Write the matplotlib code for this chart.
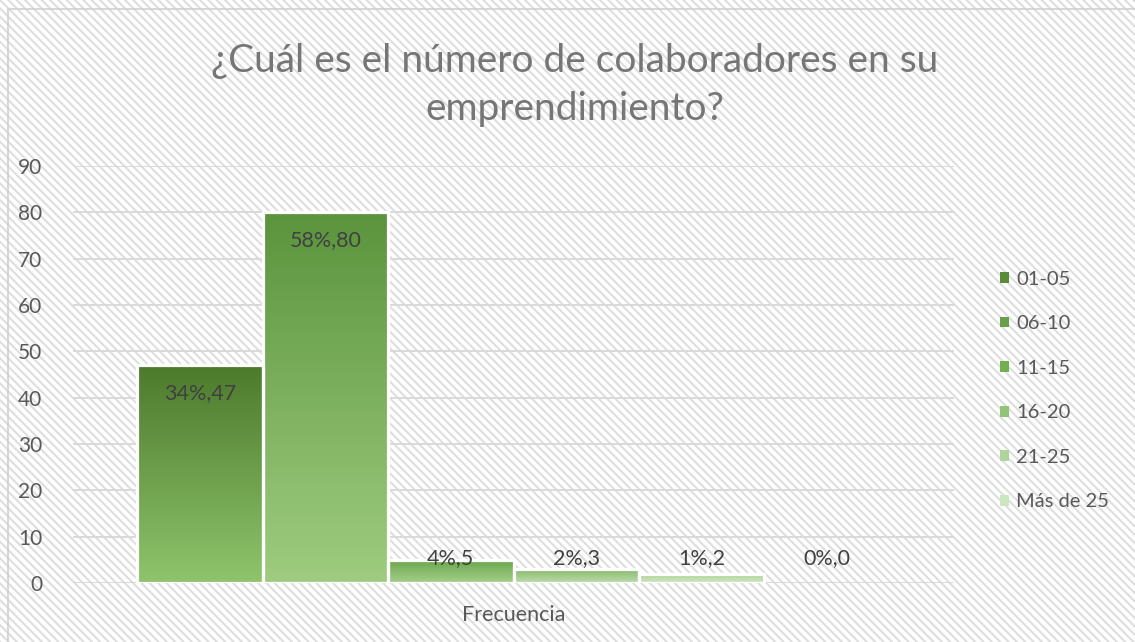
import matplotlib.pyplot as plt
import numpy as np
from matplotlib.colors import LinearSegmentedColormap
from matplotlib.patches import Patch, Rectangle

# data
series = ["01-05", "06-10", "11-15", "16-20", "21-25", "Más de 25"]
values = [47, 80, 5, 3, 2, 0]
percents = ["34%", "58%", "4%", "2%", "1%", "0%"]
category = "Frecuencia"
title = "¿Cuál es el número de colaboradores en su\nemprendimiento?"

# gradient colours (top, bottom) per series
tops = ["#4c7a2c", "#5b943d", "#68a548", "#86ba6a", "#a6ce8d", "#c5e0b4"]
bottoms = ["#8fc46c", "#9fcc80", "#a6cf8c", "#bfdcae", "#d2e8c6", "#e2f0d9"]
legend_colors = ["#5a8a3a", "#67a048", "#72b04f", "#92c478", "#b0d59b", "#cde5c0"]

plt.rcParams['font.family'] = ['Lato', 'DejaVu Sans']
plt.rcParams['hatch.linewidth'] = 1.5

fig = plt.figure(figsize=(11.35, 6.42), dpi=100)

# hatched chart background + frame
bg = Rectangle((0, 0), 1, 1, transform=fig.transFigure, facecolor='white',
               edgecolor='#dedede', hatch='\\\\\\\\', linewidth=0, zorder=-10)
fig.patches.append(bg)
frame = Rectangle((8 / 1135, -0.01), 1.01, 1 - 9 / 642 + 0.01, transform=fig.transFigure,
                  facecolor='none', edgecolor='#d0d0d0', linewidth=1.2, zorder=-9)
fig.patches.append(frame)

ax = fig.add_axes([73 / 1135, 1 - 583 / 642, (954 - 73) / 1135, (583 - 166) / 642])
ax.set_facecolor('none')

x = np.arange(len(values))
bars = ax.bar(x, values, width=1.0, facecolor='none', edgecolor='white',
              linewidth=2.3, zorder=4)

grad = np.linspace(0, 1, 256).reshape(-1, 1)
for rect, top, bottom in zip(bars, tops, bottoms):
    h = rect.get_height()
    if h <= 0:
        rect.set_edgecolor('none')  # zero bar: nothing drawn
        continue
    cmap = LinearSegmentedColormap.from_list('g', [top, bottom], N=256)
    x0 = rect.get_x()
    im = ax.imshow(grad, cmap=cmap, aspect='auto', origin='upper',
                   extent=[x0, x0 + rect.get_width(), 0, h], zorder=3,
                   interpolation='bilinear')
    im.set_clip_path(rect)

# data labels
for xi, v, p in zip(x, values, percents):
    ax.text(xi, max(v - 6.0, 5.4), f"{p},{v}", ha='center', va='center',
            fontsize=15.5, color='#404040', zorder=5)

ax.set_xlim(-1.01, 6.01)
ax.set_ylim(0, 90)
ax.set_yticks(range(0, 91, 10))
ax.set_xticks([])
ax.yaxis.grid(True, color='#d9d9d9', linewidth=1.4, zorder=0)
ax.set_axisbelow(True)
for s in ax.spines.values():
    s.set_visible(False)
ax.tick_params(axis='y', length=0, pad=22, labelsize=15, labelcolor='#595959')

ax.set_xlabel(category, fontsize=15.5, color='#595959', labelpad=16)

fig.text(575 / 1135, 1 - 85 / 642, title, ha='center', va='center',
         fontsize=28, color='#767676', linespacing=1.4)

handles = [Patch(facecolor=c, edgecolor='none') for c in legend_colors]
leg = fig.legend(handles, series, loc='center left',
                 bbox_to_anchor=(990 / 1135, 1 - 390.5 / 642),
                 frameon=False, fontsize=14.5, labelcolor='#595959',
                 handlelength=0.45, handleheight=0.45, handletextpad=0.35,
                 labelspacing=1.37, borderpad=0)

fig.savefig('out.png', dpi=100)
